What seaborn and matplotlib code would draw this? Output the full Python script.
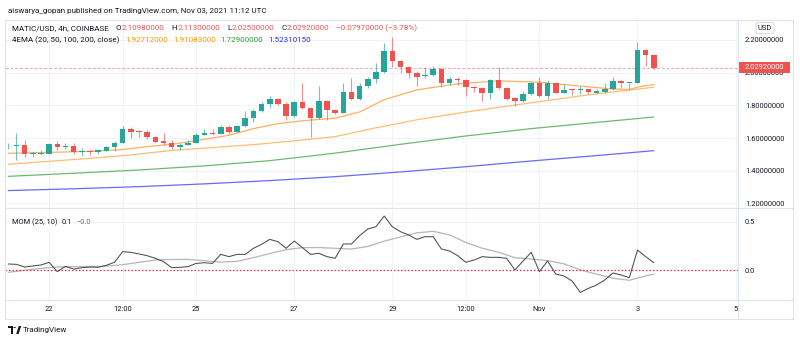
import matplotlib
matplotlib.use("Agg")
import matplotlib.pyplot as plt
import matplotlib.transforms as mtransforms
from matplotlib.lines import Line2D
from matplotlib.patches import Rectangle, Polygon, Circle
import numpy as np
import pandas as pd
import seaborn as sns

# ---------------------------------------------------------------------------
# MATIC/USD 4h bars, bar 0 = 21 Oct 2021 04:00 UTC
# ---------------------------------------------------------------------------
bar_open = [1.549, 1.554, 1.557, 1.504, 1.505, 1.505, 1.564, 1.547, 1.551, 1.518,
            1.522, 1.518, 1.524, 1.546, 1.572, 1.656, 1.641, 1.640, 1.607, 1.580,
            1.567, 1.544, 1.560, 1.572, 1.621, 1.634, 1.628, 1.666, 1.640, 1.674,
            1.721, 1.768, 1.809, 1.837, 1.809, 1.735, 1.823, 1.782, 1.725, 1.827,
            1.772, 1.756, 1.880, 1.839, 1.921, 1.960, 2.006, 2.133, 2.072, 2.037,
            1.998, 1.980, 1.986, 2.023, 1.935, 1.962, 1.954, 1.915, 1.907, 1.874,
            1.956, 1.905, 1.843, 1.829, 1.868, 1.939, 1.858, 1.939, 1.878, 1.899,
            1.896, 1.900, 1.878, 1.884, 1.900, 1.949, 1.937, 1.939, 2.139, 2.1098]
bar_high = [1.572, 1.633, 1.588, 1.521, 1.525, 1.571, 1.580, 1.570, 1.570, 1.537,
            1.527, 1.531, 1.550, 1.580, 1.676, 1.666, 1.650, 1.647, 1.611, 1.633,
            1.588, 1.572, 1.588, 1.629, 1.654, 1.654, 1.680, 1.680, 1.680, 1.768,
            1.776, 1.823, 1.857, 1.843, 1.823, 1.827, 1.939, 1.792, 1.920, 1.833,
            1.780, 1.935, 1.966, 1.939, 1.976, 2.057, 2.180, 2.221, 2.078, 2.041,
            2.012, 2.033, 2.041, 2.027, 1.976, 1.976, 1.960, 1.919, 1.915, 1.960,
            2.033, 1.915, 1.853, 1.888, 1.945, 1.972, 1.956, 1.945, 1.931, 1.902,
            1.919, 1.902, 1.898, 1.939, 1.972, 1.956, 1.943, 2.190, 2.143, 2.113]
bar_low = [1.535, 1.466, 1.482, 1.486, 1.497, 1.503, 1.530, 1.531, 1.503, 1.490,
           1.495, 1.503, 1.519, 1.523, 1.568, 1.601, 1.609, 1.592, 1.572, 1.560,
           1.531, 1.527, 1.556, 1.568, 1.617, 1.617, 1.623, 1.623, 1.635, 1.666,
           1.700, 1.762, 1.782, 1.802, 1.711, 1.731, 1.778, 1.609, 1.715, 1.711,
           1.750, 1.752, 1.833, 1.833, 1.905, 1.935, 1.999, 2.037, 2.000, 1.970,
           1.919, 1.966, 1.980, 1.915, 1.925, 1.925, 1.858, 1.884, 1.829, 1.837,
           1.899, 1.833, 1.796, 1.823, 1.864, 1.853, 1.839, 1.874, 1.874, 1.864,
           1.868, 1.870, 1.874, 1.874, 1.894, 1.905, 1.898, 1.935, 2.043, 2.025]
bar_close = [1.554, 1.557, 1.505, 1.507, 1.509, 1.564, 1.548, 1.551, 1.517, 1.522,
             1.518, 1.525, 1.546, 1.572, 1.656, 1.640, 1.638, 1.607, 1.577, 1.567,
             1.544, 1.560, 1.572, 1.619, 1.633, 1.628, 1.666, 1.640, 1.674, 1.721,
             1.768, 1.809, 1.837, 1.809, 1.735, 1.823, 1.782, 1.725, 1.827, 1.772,
             1.756, 1.880, 1.839, 1.921, 1.960, 2.006, 2.133, 2.072, 2.037, 1.996,
             1.976, 1.986, 2.023, 1.935, 1.962, 1.954, 1.915, 1.907, 1.874, 1.956,
             1.905, 1.839, 1.829, 1.868, 1.939, 1.860, 1.939, 1.878, 1.894, 1.896,
             1.900, 1.880, 1.888, 1.900, 1.949, 1.940, 1.941, 2.139, 2.1089, 2.0292]

# 4EMA (20, 50, 100, 200) sampled along the bars
ema20_idx = [0, 5, 10, 14, 17, 20, 23, 27, 30, 33, 36, 40, 43, 46, 50, 55, 60, 65, 70, 74, 76, 77, 78, 79]
ema20_val = [1.507, 1.513, 1.519, 1.530, 1.548, 1.562, 1.585, 1.617, 1.658, 1.688, 1.706, 1.722,
             1.760, 1.835, 1.895, 1.932, 1.950, 1.942, 1.918, 1.900, 1.897, 1.911, 1.921, 1.92712]
ema50_idx = [0, 5, 10, 15, 20, 25, 30, 35, 40, 45, 50, 55, 60, 65, 70, 75, 79]
ema50_val = [1.440, 1.458, 1.476, 1.497, 1.525, 1.542, 1.560, 1.583, 1.609, 1.663, 1.712,
             1.752, 1.788, 1.823, 1.858, 1.888, 1.91083]
ema100_idx = [0, 8, 16, 24, 32, 40, 48, 56, 64, 72, 79]
ema100_val = [1.366, 1.385, 1.405, 1.430, 1.462, 1.508, 1.562, 1.613, 1.658, 1.696, 1.729]
ema200_idx = [0, 8, 16, 24, 32, 40, 48, 56, 64, 72, 79]
ema200_val = [1.279, 1.290, 1.303, 1.320, 1.340, 1.364, 1.393, 1.425, 1.460, 1.493, 1.5231015]

# MOM (25, 10): momentum per bar and its 10-bar average
mom_val = [0.0625, 0.059, 0.031, 0.042, 0.052, 0.080, -0.017, 0.038, 0.010, 0.024,
           0.031, 0.028, 0.049, 0.080, 0.191, 0.184, 0.167, 0.149, 0.122, 0.087,
           0.024, 0.028, 0.035, 0.069, 0.076, 0.069, 0.163, 0.139, 0.163, 0.163,
           0.226, 0.267, 0.319, 0.295, 0.226, 0.302, 0.233, 0.163, 0.174, 0.139,
           0.122, 0.271, 0.271, 0.358, 0.427, 0.451, 0.5625, 0.451, 0.399, 0.365,
           0.319, 0.347, 0.347, 0.219, 0.198, 0.149, 0.080, 0.104, 0.139, 0.132,
           0.132, 0.122, 0.000, 0.094, 0.184, -0.017, 0.094, -0.042, -0.0625, -0.115,
           -0.233, -0.191, -0.156, -0.104, -0.031, -0.052, -0.080, 0.208, 0.139, 0.076]
mom_sig_idx = [0, 2, 4, 6, 8, 10, 12, 14, 16, 18, 20, 22, 24, 26, 28, 30, 32, 34, 36, 38,
               40, 42, 44, 46, 48, 50, 52, 54, 56, 58, 60, 62, 64, 66, 68, 70, 72, 74, 76, 78, 79]
mom_sig_val = [-0.024, -0.003, 0.017, 0.031, 0.035, 0.036, 0.040, 0.055, 0.080, 0.104,
               0.110, 0.110, 0.097, 0.082, 0.090, 0.128, 0.172, 0.212, 0.233, 0.234,
               0.226, 0.218, 0.246, 0.300, 0.345, 0.387, 0.403, 0.366, 0.287, 0.227,
               0.185, 0.128, 0.114, 0.098, 0.064, 0.002, -0.044, -0.086, -0.107, -0.062, -0.042]

time_tick_idx = [5, 14, 23, 35, 47, 56, 65, 77, 89]
time_tick_lbl = ["22", "12:00", "25", "27", "29", "12:00", "Nov", "3", "5"]
price_ticks = [1.2, 1.4, 1.6, 1.8, 2.0, 2.2]
mom_ticks = [0.0, 0.5]

# ---------------------------------------------------------------------------
sns.set_theme(style="white")
plt.rcParams["font.family"] = ["Roboto", "DejaVu Sans"]
plt.rcParams["axes.unicode_minus"] = True

W, H = 800, 343
FS = 5.4          # scale labels
FS_LEG = 5.75     # legend rows
TXT = "#131722"
GRID = "#f0f3fa"
BORDER = "#e0e3eb"
UP, DOWN = "#26a69a", "#ef5350"


def fx(x):
    return x / W


def fy(y):
    return 1 - y / H


fig = plt.figure(figsize=(W / 100, H / 100), dpi=100)
fig.patch.set_facecolor("white")
ax = fig.add_axes([fx(5), fy(207.5), 733 / W, 187.5 / H])
axm = fig.add_axes([fx(5), fy(299), 733 / W, 91.5 / H], sharex=ax)

bars = pd.DataFrame({"open": bar_open, "high": bar_high, "low": bar_low, "close": bar_close})
bars["idx"] = np.arange(len(bars))
bars["up"] = bars["close"] >= bars["open"]
bar_colors = np.where(bars["up"], UP, DOWN)

# moving averages
for idx, val, col in [(ema200_idx, ema200_val, "#6a6af2"),
                      (ema100_idx, ema100_val, "#6fb86f"),
                      (ema50_idx, ema50_val, "#ffbd73"),
                      (ema20_idx, ema20_val, "#ffb061")]:
    sns.lineplot(x=idx, y=val, ax=ax, color=col, linewidth=0.9, zorder=2)

# candles: wicks then bodies
ax.vlines(bars["idx"], bars["low"], bars["high"], colors=bar_colors, linewidth=0.8,
          alpha=0.65, zorder=3)
body_low = np.minimum(bars["open"], bars["close"])
body_h = np.maximum((bars["close"] - bars["open"]).abs(), 0.005)
ax.bar(bars["idx"], body_h, bottom=body_low, width=0.68, color=bar_colors,
       linewidth=0, zorder=4)

last_close = bar_close[-1]
ax.axhline(last_close, color="#f5a3a1", linewidth=0.7, linestyle=(0, (3, 2)), zorder=1)

ax.set_xlim(-0.40, 89.3)
ax.set_ylim(1.1755, 2.3223)
ax.set_yticks(price_ticks)
ax.set_yticklabels([f"{v:.8f}" for v in price_ticks])
ax.yaxis.tick_right()
ax.tick_params(axis="y", length=0, pad=5, labelsize=FS, labelcolor=TXT)
ax.tick_params(axis="x", length=0, labelbottom=False)
ax.set_xticks(time_tick_idx)
ax.grid(True, color=GRID, linewidth=0.8)
ax.set_xlabel("")
ax.set_ylabel("")
for s in ax.spines.values():
    s.set_visible(False)

# last price tag on the scale
blend = mtransforms.blended_transform_factory(ax.transAxes, ax.transData)
tag_h = 11 / 163.5
ax.add_patch(Rectangle((1.0, last_close - tag_h / 2), 52 / 733, tag_h, transform=blend,
                       facecolor="#ef5350", edgecolor="none", clip_on=False, zorder=10))
ax.text(1.0 + 26 / 733, last_close, f"{last_close:.8f}", transform=blend, ha="center",
        va="center", color="white", fontsize=FS, zorder=11, clip_on=False)

# momentum pane
sns.lineplot(x=mom_sig_idx, y=mom_sig_val, ax=axm, color="#b5b5b5", linewidth=0.9, zorder=2)
sns.lineplot(x=bars["idx"], y=mom_val, ax=axm, color="#4d4d4d", linewidth=0.75, zorder=3)
axm.axhline(0, color="#f23645", linewidth=0.9, linestyle=(0, (1.2, 1.6)), zorder=2)
axm.set_ylim(-0.302, 0.651)
axm.set_yticks(mom_ticks)
axm.set_yticklabels([f"{v:.1f}" for v in mom_ticks])
axm.yaxis.tick_right()
axm.tick_params(axis="y", length=0, pad=5, labelsize=FS, labelcolor=TXT)
axm.set_xticks(time_tick_idx)
axm.set_xticklabels(time_tick_lbl)
axm.tick_params(axis="x", length=0, pad=5, labelsize=FS, labelcolor=TXT)
axm.grid(True, color=GRID, linewidth=0.8)
axm.set_xlabel("")
axm.set_ylabel("")
for s in axm.spines.values():
    s.set_visible(False)

# pane borders
for (x0, y0, x1, y1) in [(5, 19.5, 793, 19.5), (5, 318.5, 793, 318.5), (5, 19.5, 5, 318.5),
                         (793, 19.5, 793, 318.5), (738, 19.5, 738, 318.5),
                         (5, 207.5, 793, 207.5), (5, 299.5, 793, 299.5)]:
    fig.add_artist(Line2D([fx(x0), fx(x1)], [fy(y0), fy(y1)], color=BORDER, linewidth=0.8,
                          transform=fig.transFigure))

renderer = fig.canvas.get_renderer()


def put_run(x_px, y_px, parts, size=FS_LEG):
    """Write text pieces one after another; each part is (text, colour, gap_before_px)."""
    x = x_px
    for s, c, gap in parts:
        x += gap
        t = fig.text(fx(x), fy(y_px), s, color=c, fontsize=size, va="center", ha="left")
        x = t.get_window_extent(renderer).x1
    return x


def fmt(v):
    return f"{v:.8f}".replace("-", "\u2212")


fig.text(fx(8), fy(11), "aiswarya_gopan published on TradingView.com, Nov 03, 2021 11:12 UTC",
         color=TXT, fontsize=5.75, va="center", ha="left")

red = "#ef5350"
chg = bar_close[-1] - bar_close[-2]
pct = chg / bar_close[-2] * 100
G = 7.0
put_run(12, 28.5, [("MATIC/USD, 4h, COINBASE", TXT, 0),
                   ("O", TXT, G), (fmt(bar_open[-1]), red, 0.3),
                   ("H", TXT, G), (fmt(bar_high[-1]), red, 0.3),
                   ("L", TXT, G), (fmt(bar_low[-1]), red, 0.3),
                   ("C", TXT, G), (fmt(bar_close[-1]), red, 0.3),
                   (f"{fmt(chg)} ({pct:.2f}%)".replace("-", "\u2212"), red, G)])

put_run(12, 40, [("4EMA (20, 50, 100, 200, close)", TXT, 0),
                 (fmt(ema20_val[-1]), "#ff9800", 6),
                 (fmt(ema50_val[-1]), "#ff9800", 5),
                 (fmt(ema100_val[-1]), "#2e9b36", 5),
                 (fmt(ema200_val[-1]), "#2a2ae8", 5)])

put_run(12, 222, [("MOM (25, 10)", TXT, 0), (f"{mom_val[-1]:.1f}", TXT, 4.5),
                  (f"{mom_sig_val[-1]:.1f}".replace("-", "\u2212"), "#6a6d78", 4.5)],
        size=FS)

fig.text(fx(765), fy(28), "USD", color=TXT, fontsize=FS, ha="center", va="center",
         bbox=dict(boxstyle="round,pad=0.25", facecolor="white", edgecolor="#d1d4dc",
                   linewidth=0.6))

# TradingView mark and wordmark
logo = [Polygon([(fx(8), fy(326)), (fx(13), fy(326)), (fx(13), fy(334)), (fx(10.8), fy(334)),
                 (fx(10.8), fy(328.4)), (fx(8), fy(328.4))], closed=True),
        Circle((fx(14.6), fy(327.6)), 1.3 / W),
        Polygon([(fx(16.2), fy(334)), (fx(18.6), fy(334)), (fx(21.2), fy(326)),
                 (fx(18.8), fy(326))], closed=True)]
for p in logo:
    p.set_transform(fig.transFigure)
    p.set_facecolor(TXT)
    p.set_edgecolor("none")
    fig.add_artist(p)
fig.text(fx(23), fy(330), "TradingView", color=TXT, fontsize=5.8, va="center", ha="left")

fig.savefig("out.png", dpi=100, facecolor="white")
